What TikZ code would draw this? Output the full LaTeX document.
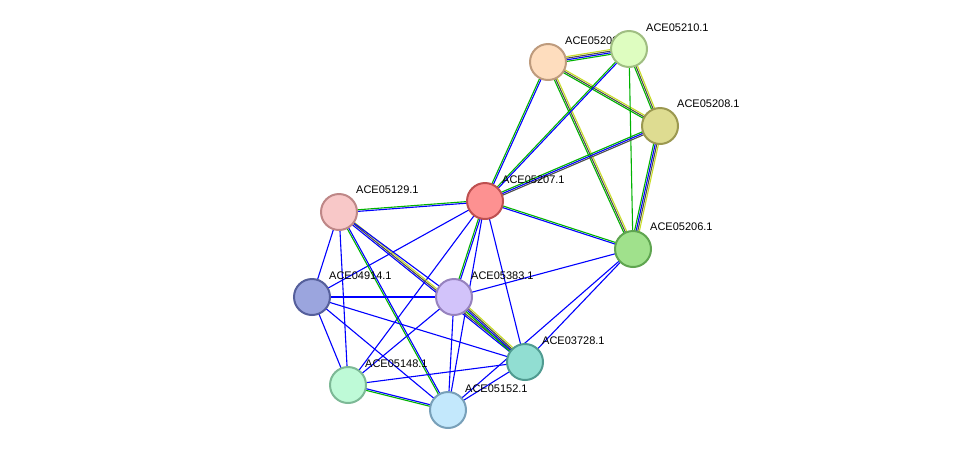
\documentclass[tikz,border=0pt]{standalone}
\usepackage{fontspec}
\setmainfont{Liberation Sans}
\usetikzlibrary{calc}
\definecolor{ey}{RGB}{200,220,40}
\tikzset{
  prot/.style={circle, draw, line width=2pt, minimum size=36pt, inner sep=0pt},
  lab/.style={font=\fontsize{11}{12}\selectfont, anchor=south west, inner sep=1pt},
  ln/.style={line width=1.1pt}
}
% multi-coloured edge: \edge{from}{to}{colours}
\newcommand{\edge}[3]{%
  \foreach \c [count=\i] in {#3} {\xdef\nn{\i}}%
  \foreach \c [count=\i] in {#3} {
    \pgfmathsetmacro{\o}{(\i-(\nn+1)/2)*1.6}
    \draw[ln, \c] ($(#1)!\o pt!90:(#2)$) -- ($(#2)!\o pt!-90:(#1)$);
  }}
\begin{document}
\begin{tikzpicture}[x=1pt,y=-1pt]
  \useasboundingbox (0,0) rectangle (976,456);
  % positions
  \coordinate (p09) at (548,62);
  \coordinate (p10) at (629,49);
  \coordinate (p08) at (660,126);
  \coordinate (p07) at (485,201);
  \coordinate (p06) at (633,249);
  \coordinate (p129) at (339,212);
  \coordinate (p4914) at (312,297);
  \coordinate (p383) at (454,297);
  \coordinate (p3728) at (525,362);
  \coordinate (p5148) at (348,385);
  \coordinate (p5152) at (448,410);

  % edges
  \edge{p09}{p10}{green!70!black,blue,black!70,ey}
  \edge{p09}{p08}{green!70!black,black!70,ey}
  \edge{p09}{p07}{green!70!black,blue}
  \edge{p09}{p06}{green!70!black,black!70,ey}
  \edge{p10}{p08}{green!70!black,black!70,ey}
  \edge{p10}{p07}{green!70!black,blue}
  \edge{p10}{p06}{green!70!black}
  \edge{p08}{p07}{green!70!black,blue,black!70}
  \edge{p08}{p06}{green!70!black,blue,black!70,ey}
  \edge{p07}{p06}{blue,green!70!black}
  \edge{p07}{p129}{green!70!black,blue}
  \edge{p07}{p383}{green!70!black,blue}
  \foreach \b in {p4914,p3728,p5148,p5152} {\edge{p07}{\b}{blue}}
  \edge{p129}{p3728}{blue,black!70,ey}
  \edge{p129}{p5152}{green!70!black,blue}
  \foreach \b in {p4914,p383,p5148} {\edge{p129}{\b}{blue}}
  \foreach \b in {p383,p3728,p5148,p5152} {\edge{p4914}{\b}{blue}}
  \edge{p383}{p3728}{green!70!black,blue,black!70,ey}
  \foreach \b in {p5148,p5152,p06} {\edge{p383}{\b}{blue}}
  \foreach \b in {p5148,p5152,p06} {\edge{p3728}{\b}{blue}}
  \edge{p06}{p5152}{blue}
  \edge{p5148}{p5152}{green!70!black,blue}

  % nodes
  \node[prot, fill={rgb,255:red,254;green,221;blue,190}, draw={rgb,255:red,190;green,155;blue,125}] (n09) at (p09) {};
  \node[lab] at (564,46) {ACE05209.1};
  \node[prot, fill={rgb,255:red,222;green,253;blue,192}, draw={rgb,255:red,160;green,190;blue,130}] (n10) at (p10) {};
  \node[lab] at (645,33) {ACE05210.1};
  \node[prot, fill={rgb,255:red,222;green,220;blue,145}, draw={rgb,255:red,155;green,152;blue,80}] (n08) at (p08) {};
  \node[lab] at (676,109) {ACE05208.1};
  \node[prot, fill={rgb,255:red,253;green,145;blue,145}, draw={rgb,255:red,190;green,80;blue,80}] (n07) at (p07) {};
  \node[lab] at (501,185) {ACE05207.1};
  \node[prot, fill={rgb,255:red,160;green,225;blue,140}, draw={rgb,255:red,95;green,165;blue,80}] (n06) at (p06) {};
  \node[lab] at (649,232) {ACE05206.1};
  \node[prot, fill={rgb,255:red,248;green,200;blue,200}, draw={rgb,255:red,190;green,135;blue,135}] (n129) at (p129) {};
  \node[lab] at (355,195) {ACE05129.1};
  \node[prot, fill={rgb,255:red,155;green,165;blue,222}, draw={rgb,255:red,85;green,95;blue,155}] (n4914) at (p4914) {};
  \node[lab] at (328,281) {ACE04914.1};
  \node[prot, fill={rgb,255:red,210;green,195;blue,250}, draw={rgb,255:red,150;green,130;blue,190}] (n383) at (p383) {};
  \node[lab] at (470,281) {ACE05383.1};
  \node[prot, fill={rgb,255:red,145;green,222;blue,210}, draw={rgb,255:red,80;green,155;blue,145}] (n3728) at (p3728) {};
  \node[lab] at (541,346) {ACE03728.1};
  \node[prot, fill={rgb,255:red,190;green,250;blue,215}, draw={rgb,255:red,125;green,185;blue,150}] (n5148) at (p5148) {};
  \node[lab] at (364,369) {ACE05148.1};
  \node[prot, fill={rgb,255:red,195;green,232;blue,252}, draw={rgb,255:red,120;green,160;blue,185}] (n5152) at (p5152) {};
  \node[lab] at (464,394) {ACE05152.1};
\end{tikzpicture}
\end{document}
